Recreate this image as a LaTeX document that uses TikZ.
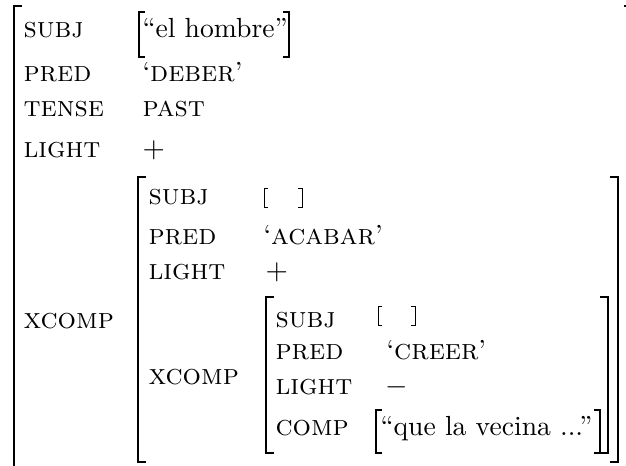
\documentclass[tikz,border=0pt]{standalone}
\newcommand{\featname}[1]{{\fontsize{11}{13}\selectfont\scshape #1}}
\begin{document}
\begin{tikzpicture}[x=0.38pt,y=-0.38pt,
  attr/.style={anchor=base west,inner sep=0pt,font=\fontsize{11}{13}\selectfont\scshape},
  val/.style={anchor=base west,inner sep=0pt,font=\fontsize{10.5}{13}\selectfont},
  bigbrk/.style={line width=0.6pt},
  smallbrk/.style={line width=0.4pt},
  tinybrk/.style={line width=0.35pt}]
\useasboundingbox (0,0) rectangle (626,465);
\clip (0,0) rectangle (626,465);

% outer f-structure brackets (partly off the page)
\draw[bigbrk] (22,6) -- (14,6) -- (14,480);
\draw[bigbrk] (624,6) -- (640,6);

% outer attributes and values
\node[attr] (s1) at (23,38) {subj};
\node[val] (v1) at (142,38) {``el hombre''};
\draw[smallbrk] (145,12) -- (139,12) -- (139,57) -- (145,57);
\draw[smallbrk] (283,12) -- (289,12) -- (289,57) -- (283,57);
\node[attr] (p1) at (23,82) {pred};
\node[val] (pv1) at (142,82) {`\featname{deber}'};
\node[attr] (t1) at (23,117) {tense};
\node[val] (tv1) at (142,117) {\featname{past}};
\node[attr] (l1) at (23,157) {light};
\node[val] (lv1) at (142,157) {$+$};
\node[attr] (x1) at (23,328) {xcomp};

% middle f-structure
\draw[bigbrk] (146,177) -- (138,177) -- (138,462) -- (146,462);
\draw[bigbrk] (610,177) -- (618,177) -- (618,462) -- (610,462);
\node[attr] (s2) at (148,204) {subj};
\draw[tinybrk] (268,188) -- (264,188) -- (264,207) -- (268,207);
\draw[tinybrk] (298,188) -- (302,188) -- (302,207) -- (298,207);
\node[attr] (p2) at (148,244) {pred};
\node[val] (pv2) at (263,244) {`\featname{acabar}'};
\node[attr] (l2) at (148,279) {light};
\node[val] (lv2) at (265,279) {$+$};
\node[attr] (x2) at (148,384) {xcomp};

% inner f-structure
\draw[bigbrk] (274,297) -- (266,297) -- (266,453) -- (274,453);
\draw[bigbrk] (600,297) -- (608,297) -- (608,453) -- (600,453);
\node[attr] (s3) at (275,327) {subj};
\draw[tinybrk] (382,306) -- (378,306) -- (378,325) -- (382,325);
\draw[tinybrk] (411,306) -- (415,306) -- (415,325) -- (411,325);
\node[attr] (p3) at (275,359) {pred};
\node[val] (pv3) at (386,359) {`\featname{creer}'};
\node[attr] (l3) at (275,394) {light};
\node[val] (lv3) at (385,394) {$-$};
\node[attr] (c3) at (275,435) {comp};
\node[val] (cv3) at (380,435) {``que la vecina ...''};
\draw[smallbrk] (382,410) -- (376,410) -- (376,453) -- (382,453);
\draw[smallbrk] (594,410) -- (600,410) -- (600,453) -- (594,453);
\end{tikzpicture}
\end{document}
